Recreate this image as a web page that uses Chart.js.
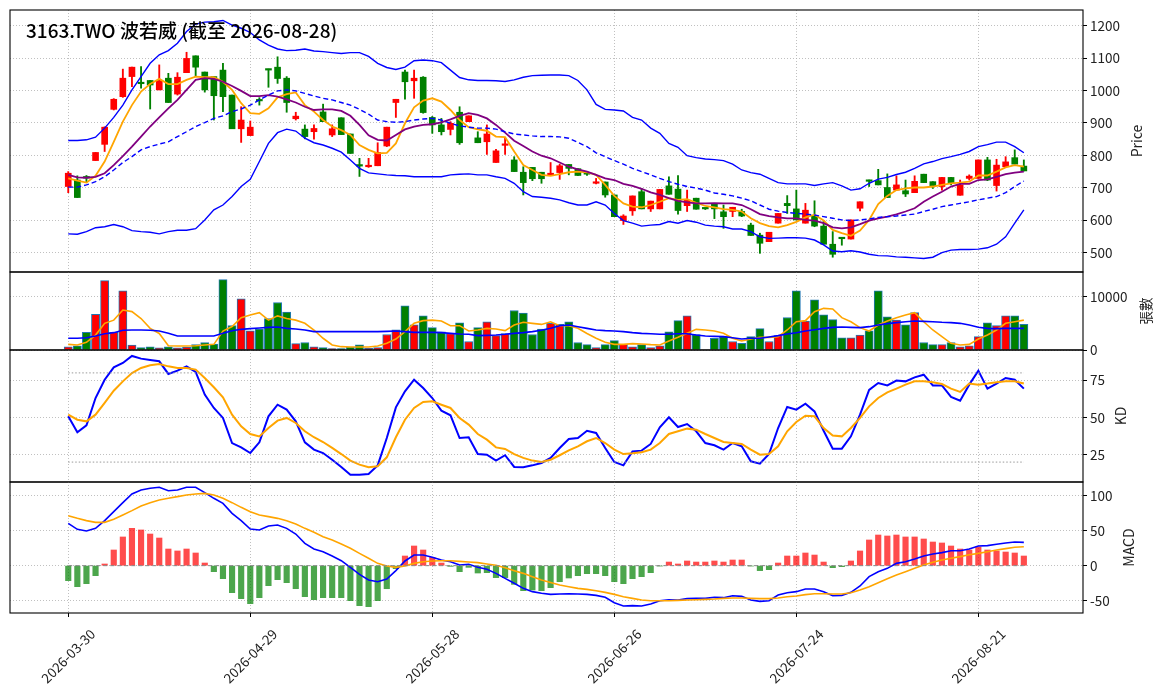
<!DOCTYPE html>
<html>
<head>
<meta charset="utf-8">
<title>3163.TWO 波若威</title>
<script src="https://cdn.jsdelivr.net/npm/chart.js@4.4.1/dist/chart.umd.min.js"></script>
<style>
  body { margin: 0; background: #fff; }
  #wrap { position: relative; width: 1163px; height: 698px; }
  #wrap canvas { position: absolute; left: 0; top: 0; }
</style>
</head>
<body>
<div id="wrap">
  <canvas id="priceChart" width="1163" height="698"></canvas>
  <canvas id="volChart" width="1163" height="698"></canvas>
  <canvas id="kdChart" width="1163" height="698"></canvas>
  <canvas id="macdChart" width="1163" height="698"></canvas>
</div>
<script>
var title = "3163.TWO 波若威 (截至 2026-08-28)";

// x ticks: every 20 trading days
var tickIdx = [0, 20, 40, 60, 80, 100];
var tickLabels = ["2026-03-30", "2026-04-29", "2026-05-28", "2026-06-26", "2026-07-24", "2026-08-21"];

// daily candles
var open = [704, 724, 735, 784, 834, 942, 981, 1043, 1025, 1031,
    1002, 1038, 989, 1055, 1107, 1057, 1043, 1063, 986, 882,
    861, 972, 1066, 1072, 1038, 913, 881, 873, 934, 863,
    916, 866, 770, 765, 768, 829, 963, 1057, 1030, 1041,
    917, 894, 880, 933, 904, 854, 842, 778, 831, 786,
    748, 763, 748, 738, 747, 772, 759, 744, 714, 718,
    678, 599, 629, 688, 635, 635, 706, 696, 645, 668,
    636, 650, 626, 627, 627, 585, 554, 534, 591, 652,
    635, 591, 614, 582, 526, 545, 542, 637, 722, 722,
    701, 693, 691, 685, 742, 719, 704, 732, 677, 729,
    729, 786, 707, 765, 793, 767];
var high = [750, 737, 738, 809, 888, 975, 1066, 1072, 1074, 1031,
    1079, 1053, 1055, 1118, 1107, 1057, 1043, 1084, 986, 950,
    906, 978, 1066, 1104, 1043, 933, 894, 894, 958, 894,
    916, 866, 791, 791, 839, 887, 973, 1063, 1063, 1043,
    920, 914, 904, 950, 922, 873, 894, 819, 853, 796,
    765, 763, 748, 778, 773, 772, 759, 750, 729, 718,
    678, 617, 675, 698, 659, 695, 734, 738, 693, 668,
    637, 650, 647, 640, 634, 591, 560, 563, 621, 676,
    693, 652, 660, 598, 565, 545, 601, 657, 724, 757,
    743, 737, 724, 737, 742, 719, 732, 732, 724, 740,
    786, 794, 788, 796, 817, 786];
var low = [685, 670, 718, 784, 812, 940, 979, 1012, 1007, 943,
    1002, 963, 986, 1055, 1043, 995, 909, 935, 882, 840,
    861, 955, 1010, 1022, 933, 909, 851, 850, 904, 858,
    864, 806, 735, 763, 768, 827, 917, 973, 976, 930,
    868, 863, 863, 834, 904, 839, 803, 778, 803, 750,
    678, 722, 714, 738, 726, 740, 738, 738, 712, 671,
    611, 587, 615, 635, 627, 635, 680, 619, 627, 634,
    633, 605, 575, 611, 611, 553, 498, 534, 591, 621,
    601, 591, 580, 526, 486, 523, 542, 629, 704, 709,
    670, 693, 673, 685, 716, 698, 693, 709, 677, 724,
    729, 722, 690, 765, 773, 752];
var close = [745, 670, 730, 809, 887, 973, 1038, 1072, 1021, 1017,
    1031, 963, 1041, 1099, 1072, 1002, 984, 981, 882, 909,
    887, 968, 1063, 1037, 963, 921, 858, 883, 904, 882,
    864, 806, 767, 768, 809, 887, 973, 1027, 1038, 932,
    894, 873, 899, 839, 922, 839, 866, 814, 835, 750,
    716, 728, 728, 745, 768, 760, 738, 742, 716, 678,
    611, 613, 675, 635, 659, 695, 680, 630, 662, 634,
    635, 635, 611, 640, 613, 553, 529, 563, 621, 645,
    601, 631, 582, 526, 495, 543, 601, 657, 720, 709,
    670, 709, 681, 720, 716, 704, 732, 716, 709, 736,
    786, 724, 770, 780, 773, 752];

// price overlays
var ma5 = [729, 722, 716, 737, 781, 842, 904, 955, 997, 1020,
    1036, 1020, 1020, 1033, 1043, 1041, 1041, 1027, 1002, 961,
    930, 928, 945, 979, 989, 994, 955, 935, 909, 889,
    878, 863, 832, 817, 806, 808, 837, 899, 948, 969,
    976, 966, 940, 909, 887, 880, 876, 858, 856, 812,
    770, 755, 740, 737, 742, 748, 750, 748, 740, 709,
    675, 652, 642, 640, 647, 657, 668, 663, 665, 654,
    644, 640, 634, 632, 627, 606, 591, 582, 578, 585,
    595, 609, 617, 599, 570, 560, 552, 568, 601, 650,
    675, 693, 698, 701, 701, 704, 709, 714, 716, 719,
    738, 738, 750, 763, 770, 765];
var ma10 = [740, 732, 731, 734, 745, 770, 798, 827, 858, 889,
    917, 945, 971, 1002, 1033, 1038, 1036, 1027, 1014, 999,
    983, 983, 986, 981, 973, 963, 950, 940, 942, 942,
    937, 922, 894, 862, 848, 846, 863, 880, 889, 894,
    896, 902, 911, 922, 930, 925, 914, 894, 870, 845,
    829, 812, 799, 791, 778, 765, 757, 750, 740, 729,
    724, 712, 706, 697, 686, 678, 668, 660, 655, 652,
    652, 653, 652, 652, 647, 634, 619, 613, 609, 606,
    606, 601, 599, 591, 578, 575, 578, 588, 599, 606,
    611, 618, 627, 637, 657, 673, 688, 704, 712, 712,
    724, 726, 734, 742, 747, 750];
var bbUpper = [846, 846, 848, 856, 884, 917, 955, 1002, 1043, 1084,
    1110, 1123, 1146, 1182, 1205, 1211, 1212, 1216, 1202, 1192,
    1179, 1156, 1140, 1128, 1123, 1124, 1128, 1122, 1120, 1117,
    1114, 1117, 1117, 1105, 1084, 1071, 1065, 1072, 1092, 1094,
    1092, 1086, 1063, 1040, 1033, 1031, 1031, 1030, 1028, 1033,
    1041, 1046, 1047, 1048, 1048, 1046, 1031, 1002, 957, 942,
    940, 937, 917, 909, 884, 868, 837, 825, 799, 793,
    789, 787, 784, 773, 755, 747, 742, 729, 716, 712,
    712, 712, 707, 712, 716, 706, 693, 697, 714, 727,
    732, 741, 748, 760, 774, 781, 790, 796, 803, 812,
    827, 833, 841, 841, 827, 808];
var bbMid = [702, 702, 709, 719, 734, 755, 778, 796, 817, 827,
    835, 842, 858, 873, 889, 901, 914, 922, 935, 943,
    955, 971, 986, 999, 1002, 999, 991, 983, 976, 971,
    963, 955, 942, 927, 909, 904, 902, 904, 909, 912,
    914, 909, 899, 891, 887, 884, 884, 881, 873, 866,
    863, 860, 858, 858, 857, 853, 840, 827, 808, 796,
    784, 773, 760, 750, 740, 729, 719, 711, 704, 699,
    693, 684, 680, 675, 668, 660, 647, 634, 628, 624,
    621, 619, 616, 611, 606, 601, 599, 601, 604, 609,
    611, 613, 616, 619, 627, 634, 642, 647, 652, 657,
    663, 668, 673, 685, 704, 721];
var bbLower = [558, 557, 565, 577, 580, 587, 580, 568, 565, 563,
    558, 565, 569, 569, 574, 601, 632, 647, 673, 704,
    726, 781, 837, 870, 881, 875, 853, 839, 832, 822,
    810, 786, 760, 746, 743, 740, 738, 737, 734, 734,
    734, 734, 740, 742, 743, 740, 740, 734, 729, 714,
    688, 673, 671, 668, 663, 654, 647, 647, 657, 647,
    621, 599, 591, 582, 585, 587, 596, 591, 599, 594,
    585, 582, 580, 573, 573, 565, 549, 544, 545, 546,
    546, 545, 539, 524, 505, 503, 506, 502, 495, 491,
    490, 487, 486, 484, 482, 486, 500, 508, 510, 510,
    511, 515, 526, 549, 591, 632];

// volume (張數)
var volume = [600, 800, 3300, 6700, 13000, 3300, 11100, 900, 450, 600,
    400, 600, 400, 550, 1000, 1400, 1100, 13200, 4600, 9600,
    3600, 3900, 5900, 8900, 7100, 1200, 1400, 600, 450, 250,
    250, 550, 950, 300, 450, 2900, 3800, 8300, 4700, 6400,
    4200, 3400, 3100, 5100, 1600, 4200, 5300, 2700, 3100, 7400,
    6900, 2900, 3900, 5000, 4800, 5300, 1400, 1000, 450, 1000,
    1750, 1050, 600, 1000, 450, 800, 3400, 5500, 6400, 2900,
    0, 2200, 2500, 1600, 1250, 2500, 4000, 1600, 2700, 6100,
    11100, 5400, 9400, 6600, 5700, 2300, 2300, 2800, 3600, 11100,
    6200, 5600, 4700, 7000, 1400, 1000, 1000, 1400, 600, 800,
    2500, 5100, 4600, 6400, 6400, 4800];
var volMa5 = [1060, 940, 1440, 2800, 5000, 5600, 7500, 7200, 5900, 4060,
    3100, 800, 750, 750, 800, 940, 1060, 3560, 4400, 6060,
    6560, 7000, 5600, 6400, 5900, 5600, 5000, 3750, 2200, 940,
    625, 560, 560, 560, 750, 1250, 2060, 3440, 5000, 5500,
    5600, 5440, 4560, 4560, 3560, 3750, 4060, 3940, 3630, 4690,
    5190, 5000, 4800, 5300, 4560, 4560, 4060, 3100, 2190, 1440,
    1060, 1060, 1190, 1125, 1000, 940, 1690, 2375, 3125, 3875,
    3750, 3560, 3125, 2190, 1690, 2060, 2375, 2375, 2500, 3750,
    5300, 5500, 7190, 7810, 7690, 6060, 5300, 4190, 3560, 4690,
    5440, 6060, 6560, 7000, 5300, 3750, 2500, 1250, 940, 1060,
    2060, 2810, 3750, 5000, 5300, 5600];
var volMa20 = [2190, 2190, 2310, 2625, 3060, 3250, 3690, 3750, 3750, 3690,
    3560, 3125, 2625, 2625, 2625, 2625, 2625, 3125, 3625, 3875,
    4000, 4125, 4250, 4310, 4060, 3940, 3750, 3440, 3440, 3440,
    3440, 3440, 3440, 3440, 3440, 3500, 3560, 3440, 3310, 3310,
    3310, 3250, 3125, 3000, 2940, 2690, 2750, 2810, 2940, 3125,
    3250, 3440, 3690, 4060, 4560, 4690, 4375, 4060, 3750, 3625,
    3560, 3440, 3250, 3125, 3060, 2940, 2940, 3060, 3060, 2810,
    2625, 2560, 2500, 2310, 2060, 2190, 2190, 2440, 2690, 3000,
    3250, 3560, 3810, 4060, 4250, 4310, 4250, 4190, 4375, 4690,
    4940, 5125, 5300, 5440, 5375, 5300, 5190, 5125, 5000, 4690,
    4250, 4060, 4000, 4060, 4060, 4060];

// KD
var kLine = [50.8, 40.0, 44.7, 63.1, 75.4, 83.7, 86.7, 91.4, 89.6, 88.7,
    87.8, 79.3, 81.5, 84.4, 80.6, 65.4, 56.4, 49.7, 32.8, 29.9,
    26.1, 33.3, 50.8, 58.6, 55.3, 47.4, 33.3, 28.4, 26.1, 21.6,
    16.7, 11.5, 11.5, 12.0, 17.8, 36.2, 56.8, 67.6, 75.4, 69.8,
    63.1, 54.6, 51.5, 36.2, 36.7, 25.4, 25.0, 21.0, 24.6, 16.7,
    16.5, 17.8, 19.4, 22.8, 29.5, 35.5, 36.2, 41.1, 39.6, 29.5,
    20.1, 17.8, 27.2, 27.7, 32.2, 43.4, 50.1, 43.6, 45.6, 40.7,
    32.8, 31.3, 28.4, 32.8, 30.6, 20.5, 18.9, 25.4, 42.9, 57.1,
    55.3, 59.3, 54.1, 41.1, 29.0, 29.0, 37.3, 51.9, 68.5, 73.2,
    71.6, 74.8, 74.3, 77.0, 78.8, 71.6, 71.6, 63.8, 61.3, 72.1,
    81.5, 69.4, 72.8, 76.6, 75.4, 69.4];
var dLine = [51.9, 48.5, 47.4, 51.9, 59.8, 68.0, 74.3, 79.9, 83.3, 85.1,
    86.0, 84.4, 83.3, 83.3, 82.2, 76.6, 70.3, 63.6, 51.9, 44.1,
    38.9, 37.3, 42.9, 47.9, 49.7, 46.3, 40.7, 36.7, 33.5, 29.5,
    25.4, 21.0, 18.3, 16.5, 17.2, 23.2, 36.7, 48.5, 56.4, 60.4,
    60.9, 58.6, 56.4, 49.7, 45.2, 38.9, 35.1, 29.9, 28.8, 25.4,
    22.8, 21.0, 20.1, 21.6, 24.6, 27.9, 30.6, 34.0, 36.2, 32.8,
    28.4, 25.4, 25.9, 26.6, 28.4, 32.8, 38.9, 40.7, 42.5, 41.8,
    38.9, 36.2, 33.5, 32.8, 32.2, 28.4, 25.0, 25.4, 30.6, 40.7,
    47.0, 51.2, 50.8, 42.9, 37.8, 37.3, 42.9, 49.7, 57.5, 63.1,
    66.9, 69.4, 72.1, 74.3, 74.3, 73.7, 72.5, 69.4, 67.2, 72.8,
    72.1, 72.8, 73.7, 74.3, 74.3, 72.8];
var kdHigh = 80, kdLow = 20;

// MACD
var dif = [60.5, 51.9, 49.5, 53.3, 64.3, 77.1, 90.0, 102.4, 108.1, 110.5,
    111.9, 107.1, 108.1, 111.9, 111.9, 104.3, 96.2, 89.0, 74.8, 64.3,
    52.4, 51.0, 56.7, 58.1, 53.3, 45.2, 31.9, 23.8, 20.0, 13.8,
    7.1, -2.4, -12.4, -20.5, -22.9, -19.0, -7.1, 6.7, 15.2, 15.2,
    11.9, 8.1, 5.7, 1.0, 1.9, -2.4, -5.2, -11.0, -18.1, -25.2,
    -32.4, -37.1, -39.5, -41.0, -40.5, -40.0, -40.5, -41.0, -42.4, -45.2,
    -52.9, -57.6, -57.1, -57.6, -54.8, -50.0, -48.6, -49.0, -47.1, -46.7,
    -46.7, -45.2, -45.7, -42.9, -43.8, -49.0, -51.0, -50.0, -41.9, -38.6,
    -37.1, -33.3, -33.3, -37.1, -42.9, -42.4, -38.1, -29.0, -15.7, -8.6,
    -3.8, 3.3, 5.7, 9.5, 13.8, 16.7, 18.6, 21.4, 21.4, 23.8,
    28.1, 28.6, 30.5, 32.4, 33.8, 33.3];
var dea = [71.4, 67.6, 64.3, 61.9, 61.9, 66.2, 72.4, 78.6, 85.2, 90.0,
    93.8, 96.2, 98.6, 101.0, 102.4, 103.3, 101.0, 96.2, 90.0, 83.3,
    77.1, 72.4, 70.0, 67.6, 64.3, 59.5, 53.3, 47.6, 41.4, 36.7,
    31.0, 24.8, 17.6, 10.5, 3.3, -0.5, -2.4, -0.5, 3.3, 5.7,
    6.7, 7.1, 7.1, 6.2, 5.2, 4.3, 2.4, 0.5, -2.9, -7.1,
    -11.0, -15.7, -20.5, -24.0, -27.6, -30.0, -32.4, -33.8, -35.7, -38.1,
    -41.0, -44.3, -46.7, -49.0, -50.0, -50.0, -50.0, -49.5, -49.0, -48.6,
    -48.1, -47.6, -46.7, -46.2, -46.2, -46.7, -47.1, -47.1, -46.2, -44.3,
    -43.3, -41.4, -40.0, -40.0, -40.5, -40.5, -38.6, -34.8, -30.0, -24.3,
    -18.6, -13.3, -8.6, -3.8, 1.0, 4.8, 8.1, 10.5, 12.9, 15.7,
    17.6, 20.0, 22.4, 24.3, 26.2, 27.1];
var osc = [-21.4, -30.0, -25.7, -14.3, 2.4, 22.4, 41.0, 53.3, 51.0, 45.2,
    39.5, 23.8, 21.0, 23.8, 18.1, 3.8, -8.6, -18.6, -38.6, -47.1,
    -54.3, -45.7, -28.6, -20.0, -24.3, -32.9, -44.3, -48.6, -45.7, -45.7,
    -45.7, -50.0, -57.1, -58.6, -50.0, -32.9, -4.3, 13.8, 28.1, 22.4,
    11.9, 3.8, -1.0, -8.6, -2.4, -10.5, -10.0, -17.1, -17.1, -26.7,
    -35.7, -34.8, -35.7, -31.4, -22.9, -17.6, -14.3, -11.4, -11.4, -14.3,
    -22.9, -25.7, -18.6, -15.7, -10.0, -0.5, 5.2, 2.4, 6.7, 5.2,
    5.2, 6.7, 5.2, 8.1, 8.1, -0.5, -7.1, -5.7, 3.8, 13.8,
    13.8, 18.1, 15.2, 5.2, -2.9, -1.4, 6.7, 21.0, 36.7, 43.8,
    42.4, 43.8, 41.0, 41.0, 38.1, 33.8, 32.4, 28.1, 23.8, 22.4,
    26.7, 22.4, 21.0, 19.5, 18.1, 13.8];

var FONT = "'Noto Sans CJK TC', 'DejaVu Sans', sans-serif";
var W = 1163, H = 698;
var PLOT_LEFT = 10, PLOT_RIGHT = 1083, AXIS_W = 80;
var GRID = "#b0b0b0";
var UP = "#ff0000", DOWN = "#008000";
var lastIdx = close.length - 1;

Chart.defaults.font.family = FONT;
Chart.defaults.color = "#222";

function points(arr) {
    return arr.map(function (v, i) { return {x: i, y: v}; });
}
function spans(a, b) {
    return a.map(function (v, i) { return {x: i, y: [v, b[i]]}; });
}
function flat(v) {
    return [{x: 0, y: v}, {x: lastIdx, y: v}];
}
var candleColors = close.map(function (c, i) { return c >= open[i] ? UP : DOWN; });
var oscColors = osc.map(function (v) { return v >= 0 ? "rgba(255,0,0,0.7)" : "rgba(0,128,0,0.7)"; });

function line(data, color, width, dash) {
    return {
        type: "line",
        data: data,
        borderColor: color,
        borderWidth: width,
        borderDash: dash || [],
        pointRadius: 0,
        tension: 0,
        fill: false,
        order: 0
    };
}

// draws the frame, the rotated axis title, and optionally the heading / date labels
function panelPlugin(cfg) {
    return {
        id: "panel",
        afterDraw: function (chart) {
            var ctx = chart.ctx, a = chart.chartArea;
            ctx.save();
            ctx.strokeStyle = "#000";
            ctx.lineWidth = 1.1;
            ctx.strokeRect(a.left, a.top, a.right - a.left, a.bottom - a.top);
            ctx.fillStyle = "#222";
            ctx.font = cfg.labelSize + "px " + FONT;
            ctx.textAlign = "center";
            ctx.textBaseline = "middle";
            ctx.translate(cfg.labelX, (a.top + a.bottom) / 2);
            ctx.rotate(-Math.PI / 2);
            ctx.fillText(cfg.label, 0, 0);
            ctx.restore();

            if (cfg.heading) {
                ctx.save();
                ctx.fillStyle = "#000";
                ctx.font = "500 19px " + FONT;
                ctx.textAlign = "left";
                ctx.textBaseline = "middle";
                ctx.fillText(cfg.heading, 26, 31);
                ctx.restore();
            }
            if (cfg.dates) {
                var xs = chart.scales.x;
                ctx.save();
                ctx.fillStyle = "#222";
                ctx.font = "13.5px " + FONT;
                ctx.textAlign = "center";
                ctx.textBaseline = "middle";
                tickIdx.forEach(function (t, k) {
                    ctx.save();
                    ctx.translate(xs.getPixelForValue(t), 656);
                    ctx.rotate(-Math.PI / 4);
                    ctx.fillText(tickLabels[k], 0, 0);
                    ctx.restore();
                });
                ctx.restore();
            }
        }
    };
}

function panelOptions(top, bottom, yMin, yMax, yTicks, bottomTicks) {
    return {
        responsive: false,
        animation: false,
        events: [],
        layout: {padding: {left: PLOT_LEFT, right: W - PLOT_RIGHT - AXIS_W, top: top, bottom: H - bottom}},
        plugins: {legend: {display: false}, tooltip: {enabled: false}},
        scales: {
            x: {
                type: "linear",
                min: -6.4,
                max: 111.5,
                offset: false,
                afterBuildTicks: function (s) {
                    s.ticks = tickIdx.map(function (v) { return {value: v}; });
                },
                afterFit: function (s) {
                    s.height = 0;
                    s.paddingLeft = 0;
                    s.paddingRight = 0;
                },
                ticks: {display: false},
                grid: {offset: false, color: GRID, lineWidth: 0.8, drawTicks: bottomTicks, tickLength: 4, tickColor: "#000", tickWidth: 1},
                border: {display: false, dash: [1, 2]}
            },
            y: {
                position: "right",
                min: yMin,
                max: yMax,
                afterBuildTicks: function (s) {
                    s.ticks = yTicks.map(function (v) { return {value: v}; });
                },
                afterFit: function (s) {
                    s.width = AXIS_W;
                    s.paddingTop = 0;
                    s.paddingBottom = 0;
                },
                ticks: {
                    font: {size: 13.5},
                    padding: 3,
                    color: "#222",
                    callback: function (v) { return String(v); }
                },
                grid: {color: GRID, lineWidth: 0.8, tickLength: 4, tickColor: "#000", tickWidth: 1},
                border: {display: false, dash: [1, 2]}
            }
        }
    };
}

// price panel
new Chart(document.getElementById("priceChart"), {
    type: "bar",
    data: {
        datasets: [
            {
                data: spans(low, high),
                backgroundColor: candleColors,
                barThickness: 1.2,
                grouped: false,
                order: 3
            },
            {
                data: spans(open, close),
                backgroundColor: candleColors,
                barThickness: 6,
                minBarLength: 1.5,
                grouped: false,
                order: 2
            },
            line(points(bbUpper), "#0000ff", 1.4),
            line(points(bbLower), "#0000ff", 1.4),
            line(points(bbMid), "#0000ff", 1.4, [5, 3]),
            line(points(ma10), "#800080", 1.8),
            line(points(ma5), "#ffa500", 1.8)
        ]
    },
    options: panelOptions(10, 272, 440.4, 1248.3, [500, 600, 700, 800, 900, 1000, 1100, 1200], false),
    plugins: [panelPlugin({label: "Price", labelX: 1137, labelSize: 14, heading: title})]
});

// volume panel
new Chart(document.getElementById("volChart"), {
    type: "bar",
    data: {
        datasets: [
            {
                data: points(volume),
                backgroundColor: candleColors,
                borderColor: "#1f77b4",
                borderWidth: 1,
                barThickness: 8.2,
                grouped: false,
                order: 2
            },
            line(points(volMa20), "#0000ff", 1.6),
            line(points(volMa5), "#ffa500", 1.6)
        ]
    },
    options: panelOptions(272, 350, 0, 14625, [0, 10000], false),
    plugins: [panelPlugin({label: "張數", labelX: 1146, labelSize: 13.5})]
});

// KD panel
new Chart(document.getElementById("kdChart"), {
    type: "line",
    data: {
        datasets: [
            line(flat(kdHigh), "#999999", 1, [1.5, 2]),
            line(flat(kdLow), "#999999", 1, [1.5, 2]),
            line(points(dLine), "#ffa500", 2),
            line(points(kLine), "#0000ff", 2)
        ]
    },
    options: panelOptions(350, 482, 6.6, 95.4, [25, 50, 75], false),
    plugins: [panelPlugin({label: "KD", labelX: 1121, labelSize: 14})]
});

// MACD panel
new Chart(document.getElementById("macdChart"), {
    type: "bar",
    data: {
        datasets: [
            {
                data: points(osc),
                backgroundColor: oscColors,
                barThickness: 5.5,
                grouped: false,
                order: 2
            },
            line(flat(0), "#888888", 1, [4, 3]),
            line(points(dea), "#ffa500", 1.6),
            line(points(dif), "#0000ff", 1.6)
        ]
    },
    options: panelOptions(482, 613, -67.6, 119.5, [-50, 0, 50, 100], true),
    plugins: [panelPlugin({label: "MACD", labelX: 1129, labelSize: 14, dates: true})]
});
</script>
</body>
</html>
